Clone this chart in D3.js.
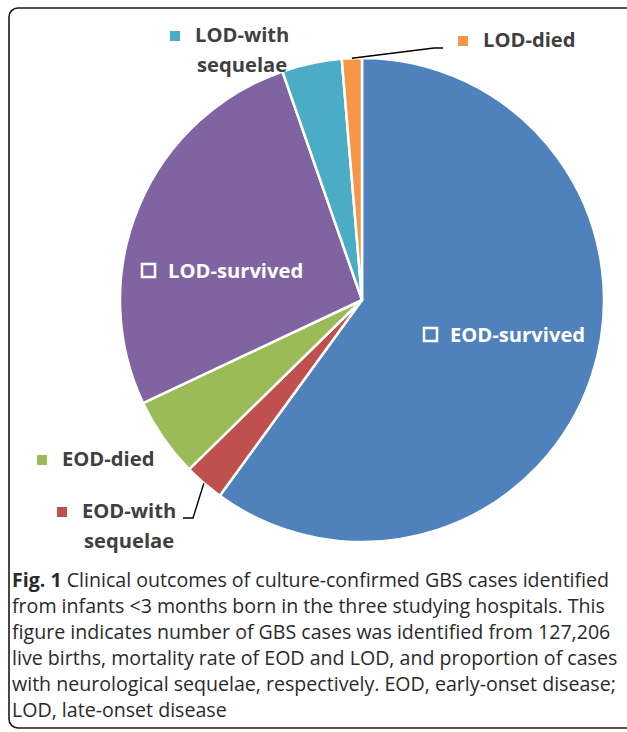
<!DOCTYPE html>
<html>
<head>
<meta charset="utf-8">
<script src="https://cdn.jsdelivr.net/npm/d3@7"></script>
<style>
  body { margin: 0; background: #fff; }
  svg { display: block; }
</style>
</head>
<body>
<div id="chart"></div>
<script>
// Data
var categories = ["EOD-survived", "EOD-with sequelae", "EOD-died", "LOD-survived", "LOD-with sequelae", "LOD-died"];
var cases = [45, 2, 4, 20, 3, 1];
var colors = ["#4F81BD", "#C0504D", "#9BBB59", "#8064A2", "#4BACC6", "#F79646"];

var captionLines = [
  "Clinical outcomes of culture-confirmed GBS cases identified",
  "from infants <3 months born in the three studying hospitals. This",
  "figure indicates number of GBS cases was identified from 127,206",
  "live births, mortality rate of EOD and LOD, and proportion of cases",
  "with neurological sequelae, respectively. EOD, early-onset disease;",
  "LOD, late-onset disease"
];

var width = 627, height = 732;
var cx = 362, cy = 300, radius = 242;

var svg = d3.select("#chart").append("svg")
    .attr("width", width)
    .attr("height", height);

// frame (open on the right side, like the cropped figure)
svg.append("rect")
    .attr("x", 9).attr("y", 8)
    .attr("width", 680).attr("height", 720)
    .attr("rx", 9).attr("ry", 9)
    .attr("fill", "none")
    .attr("stroke", "#1a1a1a")
    .attr("stroke-width", 1.6);

var dataset = categories.map(function(c, i) { return { label: c, value: cases[i], color: colors[i] }; });

var pie = d3.pie()
    .sort(null)
    .value(function(d) { return d.value; });

var arc = d3.arc().innerRadius(0).outerRadius(radius);
var rimArc = d3.arc().innerRadius(radius).outerRadius(radius);

var g = svg.append("g").attr("transform", "translate(" + cx + "," + cy + ")");
var arcs = pie(dataset);

g.selectAll(".arc")
    .data(arcs)
  .enter().append("path")
    .attr("class", "arc")
    .attr("d", arc)
    .style("fill", function(d) { return d.data.color; })
    .style("stroke", "#fff")
    .style("stroke-width", 2.5)
    .style("stroke-linejoin", "miter");

// label placement (x of text start, baseline of first line)
var labelLayout = [
  { x: 450, y: 342, inside: true },
  { x: 82, y: 518, inside: false, leader: [[193, 518], [183, 518]] },
  { x: 62, y: 466, inside: false },
  { x: 168, y: 278, inside: true },
  { x: 195, y: 42, inside: false },
  { x: 483, y: 47, inside: false, leader: [[434, 48], [443, 48]] }
];

var fontFamily = "'Open Sans', 'DejaVu Sans', sans-serif";

// leader lines
arcs.forEach(function(d, i) {
  var lay = labelLayout[i];
  if (!lay.leader) return;
  var p = rimArc.centroid(d);
  var pts = [[p[0] + cx, p[1] + cy]].concat(lay.leader);
  svg.append("path")
      .attr("d", d3.line()(pts))
      .attr("fill", "none")
      .attr("stroke", "#000")
      .attr("stroke-width", 1.4);
});

// labels
arcs.forEach(function(d, i) {
  var lay = labelLayout[i];
  var words = d.data.label.indexOf(" ") > 0 ? d.data.label.split(" ") : [d.data.label];
  var txtColor = lay.inside ? "#fff" : "#404040";
  var t = svg.append("text")
      .attr("x", lay.x)
      .attr("y", lay.y)
      .attr("font-family", fontFamily)
      .attr("font-weight", 700)
      .attr("font-size", 20.2)
      .attr("fill", txtColor);
  words.forEach(function(w, k) {
    t.append("tspan")
        .attr("x", lay.x + (k > 0 ? 2 : 0))
        .attr("y", lay.y + k * 30)
        .text(w);
  });
  // legend key
  if (lay.inside) {
    svg.append("rect")
        .attr("x", lay.x - 26).attr("y", lay.y - 14)
        .attr("width", 13).attr("height", 13)
        .attr("fill", "none")
        .attr("stroke", "#fff")
        .attr("stroke-width", 2.5);
  } else {
    svg.append("rect")
        .attr("x", lay.x - 25).attr("y", lay.y - 11)
        .attr("width", 10).attr("height", 10)
        .attr("fill", d.data.color);
  }
});

// caption
var cap = svg.append("text")
    .attr("font-family", fontFamily)
    .attr("font-size", 19.6)
    .attr("fill", "#2a2a2a");

captionLines.forEach(function(line, i) {
  var ts = cap.append("tspan")
      .attr("x", 12)
      .attr("y", 587 + i * 26);
  if (i === 0) {
    ts.append("tspan").attr("font-weight", 700).text("Fig. 1");
    ts.append("tspan").text(" " + line);
  } else {
    ts.text(line);
  }
});
</script>
</body>
</html>
